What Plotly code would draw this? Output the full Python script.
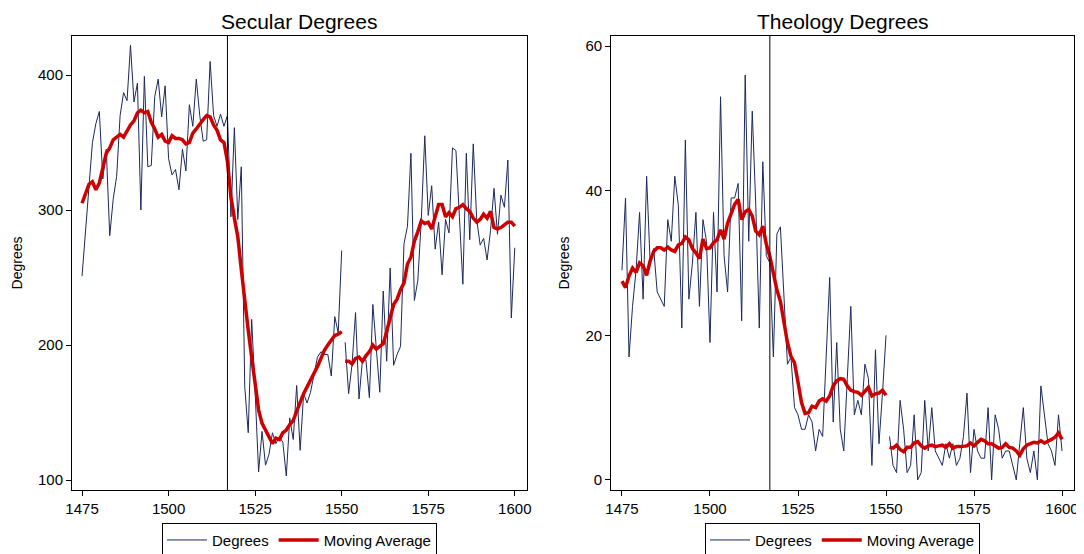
import plotly.graph_objects as go

years = list(range(1475, 1601))
break_year = 1550
reform_year = 1517

secular = [
    251, 282, 313, 350, 364, 373, 323, 345, 281, 308,
    325, 370, 387, 381, 422, 380, 394, 300, 399, 332,
    333, 384, 397, 369, 392, 338, 326, 330, 315, 345,
    329, 378, 362, 397, 370, 351, 352, 410, 370, 362,
    371, 362, 370, 295, 361, 293, 332, 169, 135, 219,
    165, 106, 136, 111, 119, 135, 127, 132, 128, 103,
    146, 130, 170, 122, 164, 157, 165, 177, 191, 195,
    193, 193, 177, 221, 209, 270, 202, 164, 186, 224,
    160, 189, 189, 161, 230, 196, 165, 240, 188, 257,
    185, 193, 199, 275, 288, 342, 233, 248, 293, 355,
    296, 318, 271, 291, 252, 293, 283, 346, 344, 295,
    245, 342, 278, 349, 293, 274, 279, 263, 285, 316,
    282, 311, 302, 337, 220, 272,
]

secular_ma = [
    305, 312, 319, 321, 315, 320, 330, 342, 346, 352,
    354, 356, 354, 359, 363, 366, 372, 374, 372, 373,
    365, 360, 354, 356, 351, 350, 355, 353, 353, 352,
    349, 350, 357, 360, 364, 367, 370, 369, 363, 359,
    352, 350, 336, 310, 294, 280, 256, 231, 211, 191,
    172, 152, 142, 137, 133, 127, 131, 130, 135, 137,
    141, 144, 151, 158, 164, 169, 174, 178, 184, 190,
    196, 200, 204, 207, 208, 210, 188, 188, 186, 190,
    191, 188, 192, 195, 200, 197, 199, 201, 210, 221,
    230, 234, 241, 246, 260, 265, 277, 284, 292, 290,
    291, 286, 295, 304, 304, 295, 298, 295, 301, 302,
    304, 301, 299, 294, 291, 293, 297, 294, 299, 287,
    286, 287, 289, 291, 291, 288,
]

theology = [
    29, 39, 17, 24, 29, 37, 25, 42, 30, 32,
    26, 25, 24, 36, 33, 42, 38, 21, 47, 25,
    30, 37, 24, 36, 33, 19, 37, 26, 53, 31,
    26, 39, 39, 41, 22, 56, 33, 51, 38, 21,
    44, 31, 30, 17, 34, 35, 26, 16, 17, 10,
    9, 7, 7, 9, 8, 4, 7, 6, 17, 28,
    8, 19, 7, 4, 14, 24, 9, 11, 9, 16,
    14, 2, 18, 5, 12, 20, 6, 2, 1, 11,
    7, 1, 2, 9, 0, 1, 11, 4, 10, 4,
    3, 2, 5, 3, 5, 2, 3, 6, 12, 1,
    7, 4, 3, 3, 10, 0, 9, 7, 3, 4,
    4, 2, 0, 5, 10, 3, 1, 4, 0, 13,
    9, 5, 4, 2, 9, 4,
]

theology_ma = [
    27.5, 26.6, 28.2, 29.3, 28.7, 30.0, 29.6, 28.3, 30.3, 31.6,
    32.1, 32.1, 31.8, 32.2, 31.8, 31.6, 32.5, 32.7, 33.6, 33.2,
    32.0, 31.4, 30.6, 33.3, 32.0, 32.1, 32.8, 33.2, 34.6, 33.3,
    35.5, 36.7, 38.1, 38.8, 36.0, 37.1, 37.4, 36.5, 34.4, 33.9,
    35.1, 32.6, 30.9, 28.6, 26.3, 24.7, 21.7, 19.0, 17.1, 16.2,
    13.5, 10.7, 9.2, 9.3, 10.2, 10.0, 10.9, 11.2, 10.9, 11.6,
    13.0, 13.7, 14.0, 13.9, 13.0, 12.4, 12.2, 12.1, 11.7, 12.3,
    12.8, 11.6, 11.9, 12.0, 12.4, 11.7, 4.5, 4.4, 4.8, 4.2,
    3.9, 4.5, 4.5, 5.1, 5.3, 4.7, 4.4, 4.7, 4.8, 4.6,
    4.7, 4.8, 4.5, 5.0, 4.4, 4.6, 4.6, 4.7, 4.7, 5.1,
    4.7, 5.2, 5.6, 5.4, 5.0, 5.0, 4.7, 4.4, 4.5, 5.0,
    4.5, 4.4, 4.0, 3.4, 4.3, 4.8, 5.0, 5.2, 5.1, 5.4,
    5.1, 5.3, 5.6, 5.9, 6.5, 5.6,
]

panel_titles = ["Secular Degrees", "Theology Degrees"]
x_ticks = [1475, 1500, 1525, 1550, 1575, 1600]
y_ticks_secular = [100, 200, 300, 400]
y_ticks_theology = [0, 20, 40, 60]

BLUE = "#1b2a5c"
RED = "#cc0000"
FONT = "Liberation Sans, Arial, sans-serif"


def split(values):
    xa, ya, xb, yb = [], [], [], []
    for yr, v in zip(years, values):
        if yr <= break_year:
            xa.append(yr); ya.append(v)
        else:
            xb.append(yr); yb.append(v)
    return (xa, ya), (xb, yb)


fig = go.Figure()

panels = [
    ("x", "y", "legend", secular, secular_ma),
    ("x2", "y2", "legend2", theology, theology_ma),
]
for xa, ya, leg, raw, ma in panels:
    for i, (sx, sy) in enumerate(split(raw)):
        fig.add_trace(go.Scatter(
            x=sx, y=sy, mode="lines", name="Degrees",
            line=dict(color=BLUE, width=1), xaxis=xa, yaxis=ya,
            legend=leg, showlegend=(i == 0), legendgroup=leg + "raw",
        ))
    for i, (sx, sy) in enumerate(split(ma)):
        fig.add_trace(go.Scatter(
            x=sx, y=sy, mode="lines", name="Moving Average",
            line=dict(color=RED, width=3.5), xaxis=xa, yaxis=ya,
            legend=leg, showlegend=(i == 0), legendgroup=leg + "ma",
        ))

axis_common = dict(
    showline=True, mirror=True, linecolor="black", linewidth=1,
    ticks="outside", ticklen=5, tickcolor="black", showgrid=False,
    zeroline=False, automargin=False,
    tickfont=dict(size=15, color="black", family=FONT),
)

left_dom = [0.0, 0.454]
right_dom = [0.538, 1.0]

legend_common = dict(
    orientation="h", xanchor="center", y=-0.072, yanchor="top",
    bordercolor="black", borderwidth=1, bgcolor="white",
    font=dict(size=15, family=FONT), itemwidth=40,
)

# page body has an 8px default margin; the figure is placed accordingly
fig.update_layout(
    width=1076, height=546,
    margin=dict(l=64, r=10, t=28, b=64, autoexpand=False),
    paper_bgcolor="white", plot_bgcolor="white",
    font=dict(family=FONT, color="black"),
    xaxis=dict(domain=left_dom, range=[1472.1, 1603.5], tickvals=x_ticks,
               anchor="y", **axis_common),
    yaxis=dict(domain=[0, 1], range=[92.6, 428.9], tickvals=y_ticks_secular,
               anchor="x",
               title=dict(text="Degrees", font=dict(size=14, family=FONT), standoff=12),
               **axis_common),
    xaxis2=dict(domain=right_dom, range=[1471.9, 1603.4], tickvals=x_ticks,
                anchor="y2", **axis_common),
    yaxis2=dict(domain=[0, 1], range=[-1.4, 61.4], tickvals=y_ticks_theology,
                anchor="x2",
                title=dict(text="Degrees", font=dict(size=14, family=FONT), standoff=12),
                **axis_common),
    legend=dict(x=sum(left_dom) / 2, **legend_common),
    legend2=dict(x=sum(right_dom) / 2, **legend_common),
    shapes=[
        dict(type="line", xref="x", yref="y domain", x0=reform_year, x1=reform_year,
             y0=0, y1=1, line=dict(color="black", width=1)),
        dict(type="line", xref="x2", yref="y2 domain", x0=reform_year, x1=reform_year,
             y0=0, y1=1, line=dict(color="black", width=1)),
    ],
    annotations=[
        dict(text=panel_titles[0], xref="paper", yref="paper", x=sum(left_dom) / 2,
             xanchor="center", y=1, yanchor="bottom", yshift=1, showarrow=False,
             font=dict(size=21, family=FONT, color="black")),
        dict(text=panel_titles[1], xref="paper", yref="paper", x=sum(right_dom) / 2,
             xanchor="center", y=1, yanchor="bottom", yshift=1, showarrow=False,
             font=dict(size=21, family=FONT, color="black")),
    ],
)

fig.write_html("out.html")
